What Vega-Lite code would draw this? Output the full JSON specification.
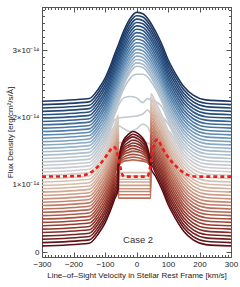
{
"$schema":"https://vega.github.io/schema/vega-lite/v6.json",
"width":189,"height":250,
"autosize":{"type":"none"},
"padding":{"left":42,"top":7,"right":9,"bottom":30},
"config":{"view":{"stroke":"#555","strokeWidth":1},"font":"Liberation Sans"},
"datasets":{
"label":[{"x":5,"y":0.18,"t":"Case 2"}],
"dashed":[{"x":-300,"y":1.12},{"x":-180,"y":1.13},{"x":-150,"y":1.17},{"x":-120,"y":1.28},{"x":-100,"y":1.40},{"x":-85,"y":1.50},{"x":-75,"y":1.56},{"x":-68,"y":1.55},{"x":-60,"y":1.45},{"x":-52,"y":1.28},{"x":-45,"y":1.15},{"x":-38,"y":1.12},{"x":33,"y":1.12},{"x":40,"y":1.18},{"x":47,"y":1.38},{"x":55,"y":1.58},{"x":62,"y":1.66},{"x":68,"y":1.67},{"x":80,"y":1.56},{"x":100,"y":1.41},{"x":120,"y":1.30},{"x":140,"y":1.21},{"x":160,"y":1.15},{"x":190,"y":1.12},{"x":300,"y":1.12}],
"curves":[
{"s":0,"x":-300,"y":2.24},{"s":0,"x":-150,"y":2.28},{"s":0,"x":-120,"y":2.43},{"s":0,"x":-100,"y":2.58},{"s":0,"x":-85,"y":2.74},{"s":0,"x":-70,"y":2.93},{"s":0,"x":-55,"y":3.11},{"s":0,"x":-40,"y":3.29},{"s":0,"x":-20,"y":3.47},{"s":0,"x":0,"y":3.56},{"s":0,"x":20,"y":3.54},{"s":0,"x":40,"y":3.44},{"s":0,"x":60,"y":3.28},{"s":0,"x":80,"y":3.09},{"s":0,"x":100,"y":2.86},{"s":0,"x":125,"y":2.64},{"s":0,"x":150,"y":2.46},{"s":0,"x":180,"y":2.33},{"s":0,"x":220,"y":2.26},{"s":0,"x":300,"y":2.24},
{"s":1,"x":-300,"y":2.19},{"s":1,"x":-150,"y":2.23},{"s":1,"x":-120,"y":2.38},{"s":1,"x":-100,"y":2.53},{"s":1,"x":-85,"y":2.69},{"s":1,"x":-70,"y":2.88},{"s":1,"x":-55,"y":3.06},{"s":1,"x":-40,"y":3.24},{"s":1,"x":-20,"y":3.42},{"s":1,"x":0,"y":3.51},{"s":1,"x":20,"y":3.49},{"s":1,"x":40,"y":3.39},{"s":1,"x":60,"y":3.23},{"s":1,"x":80,"y":3.04},{"s":1,"x":100,"y":2.81},{"s":1,"x":125,"y":2.59},{"s":1,"x":150,"y":2.41},{"s":1,"x":180,"y":2.28},{"s":1,"x":220,"y":2.21},{"s":1,"x":300,"y":2.19},
{"s":2,"x":-300,"y":2.14},{"s":2,"x":-150,"y":2.18},{"s":2,"x":-120,"y":2.33},{"s":2,"x":-100,"y":2.48},{"s":2,"x":-85,"y":2.64},{"s":2,"x":-70,"y":2.83},{"s":2,"x":-55,"y":3.01},{"s":2,"x":-40,"y":3.19},{"s":2,"x":-20,"y":3.37},{"s":2,"x":0,"y":3.46},{"s":2,"x":20,"y":3.44},{"s":2,"x":40,"y":3.34},{"s":2,"x":60,"y":3.18},{"s":2,"x":80,"y":2.99},{"s":2,"x":100,"y":2.76},{"s":2,"x":125,"y":2.54},{"s":2,"x":150,"y":2.36},{"s":2,"x":180,"y":2.23},{"s":2,"x":220,"y":2.16},{"s":2,"x":300,"y":2.14},
{"s":3,"x":-300,"y":2.09},{"s":3,"x":-150,"y":2.13},{"s":3,"x":-120,"y":2.28},{"s":3,"x":-100,"y":2.43},{"s":3,"x":-85,"y":2.59},{"s":3,"x":-70,"y":2.78},{"s":3,"x":-55,"y":2.96},{"s":3,"x":-40,"y":3.14},{"s":3,"x":-20,"y":3.32},{"s":3,"x":0,"y":3.41},{"s":3,"x":20,"y":3.39},{"s":3,"x":40,"y":3.29},{"s":3,"x":60,"y":3.13},{"s":3,"x":80,"y":2.94},{"s":3,"x":100,"y":2.71},{"s":3,"x":125,"y":2.49},{"s":3,"x":150,"y":2.31},{"s":3,"x":180,"y":2.18},{"s":3,"x":220,"y":2.11},{"s":3,"x":300,"y":2.09},
{"s":4,"x":-300,"y":2.04},{"s":4,"x":-150,"y":2.08},{"s":4,"x":-120,"y":2.23},{"s":4,"x":-100,"y":2.38},{"s":4,"x":-85,"y":2.54},{"s":4,"x":-70,"y":2.73},{"s":4,"x":-55,"y":2.91},{"s":4,"x":-40,"y":3.09},{"s":4,"x":-20,"y":3.27},{"s":4,"x":0,"y":3.36},{"s":4,"x":20,"y":3.34},{"s":4,"x":40,"y":3.24},{"s":4,"x":60,"y":3.08},{"s":4,"x":80,"y":2.89},{"s":4,"x":100,"y":2.66},{"s":4,"x":125,"y":2.44},{"s":4,"x":150,"y":2.26},{"s":4,"x":180,"y":2.13},{"s":4,"x":220,"y":2.06},{"s":4,"x":300,"y":2.04},
{"s":5,"x":-300,"y":1.99},{"s":5,"x":-150,"y":2.03},{"s":5,"x":-120,"y":2.18},{"s":5,"x":-100,"y":2.33},{"s":5,"x":-85,"y":2.49},{"s":5,"x":-70,"y":2.68},{"s":5,"x":-55,"y":2.86},{"s":5,"x":-40,"y":3.04},{"s":5,"x":-20,"y":3.22},{"s":5,"x":0,"y":3.31},{"s":5,"x":20,"y":3.29},{"s":5,"x":40,"y":3.19},{"s":5,"x":60,"y":3.03},{"s":5,"x":80,"y":2.84},{"s":5,"x":100,"y":2.61},{"s":5,"x":125,"y":2.39},{"s":5,"x":150,"y":2.21},{"s":5,"x":180,"y":2.08},{"s":5,"x":220,"y":2.01},{"s":5,"x":300,"y":1.99},
{"s":6,"x":-300,"y":1.94},{"s":6,"x":-150,"y":1.98},{"s":6,"x":-120,"y":2.13},{"s":6,"x":-100,"y":2.28},{"s":6,"x":-85,"y":2.44},{"s":6,"x":-70,"y":2.63},{"s":6,"x":-55,"y":2.81},{"s":6,"x":-40,"y":2.99},{"s":6,"x":-20,"y":3.17},{"s":6,"x":0,"y":3.26},{"s":6,"x":20,"y":3.24},{"s":6,"x":40,"y":3.14},{"s":6,"x":60,"y":2.98},{"s":6,"x":80,"y":2.79},{"s":6,"x":100,"y":2.56},{"s":6,"x":125,"y":2.34},{"s":6,"x":150,"y":2.16},{"s":6,"x":180,"y":2.03},{"s":6,"x":220,"y":1.96},{"s":6,"x":300,"y":1.94},
{"s":7,"x":-300,"y":1.89},{"s":7,"x":-150,"y":1.93},{"s":7,"x":-120,"y":2.08},{"s":7,"x":-100,"y":2.23},{"s":7,"x":-85,"y":2.39},{"s":7,"x":-70,"y":2.58},{"s":7,"x":-55,"y":2.76},{"s":7,"x":-40,"y":2.94},{"s":7,"x":-20,"y":3.12},{"s":7,"x":0,"y":3.21},{"s":7,"x":20,"y":3.19},{"s":7,"x":40,"y":3.09},{"s":7,"x":60,"y":2.93},{"s":7,"x":80,"y":2.74},{"s":7,"x":100,"y":2.51},{"s":7,"x":125,"y":2.29},{"s":7,"x":150,"y":2.11},{"s":7,"x":180,"y":1.98},{"s":7,"x":220,"y":1.91},{"s":7,"x":300,"y":1.89},
{"s":8,"x":-300,"y":1.84},{"s":8,"x":-150,"y":1.88},{"s":8,"x":-120,"y":2.03},{"s":8,"x":-100,"y":2.18},{"s":8,"x":-85,"y":2.34},{"s":8,"x":-70,"y":2.53},{"s":8,"x":-55,"y":2.71},{"s":8,"x":-40,"y":2.89},{"s":8,"x":-20,"y":3.07},{"s":8,"x":0,"y":3.16},{"s":8,"x":20,"y":3.14},{"s":8,"x":40,"y":3.04},{"s":8,"x":60,"y":2.88},{"s":8,"x":80,"y":2.69},{"s":8,"x":100,"y":2.46},{"s":8,"x":125,"y":2.24},{"s":8,"x":150,"y":2.06},{"s":8,"x":180,"y":1.93},{"s":8,"x":220,"y":1.86},{"s":8,"x":300,"y":1.84},
{"s":9,"x":-300,"y":1.79},{"s":9,"x":-150,"y":1.83},{"s":9,"x":-120,"y":1.98},{"s":9,"x":-100,"y":2.13},{"s":9,"x":-85,"y":2.29},{"s":9,"x":-70,"y":2.48},{"s":9,"x":-55,"y":2.66},{"s":9,"x":-40,"y":2.84},{"s":9,"x":-20,"y":3.02},{"s":9,"x":0,"y":3.11},{"s":9,"x":20,"y":3.09},{"s":9,"x":40,"y":2.99},{"s":9,"x":60,"y":2.83},{"s":9,"x":80,"y":2.64},{"s":9,"x":100,"y":2.41},{"s":9,"x":125,"y":2.19},{"s":9,"x":150,"y":2.01},{"s":9,"x":180,"y":1.88},{"s":9,"x":220,"y":1.81},{"s":9,"x":300,"y":1.79},
{"s":10,"x":-300,"y":1.74},{"s":10,"x":-150,"y":1.78},{"s":10,"x":-120,"y":1.93},{"s":10,"x":-100,"y":2.08},{"s":10,"x":-85,"y":2.24},{"s":10,"x":-70,"y":2.43},{"s":10,"x":-55,"y":2.61},{"s":10,"x":-40,"y":2.79},{"s":10,"x":-20,"y":2.97},{"s":10,"x":0,"y":3.06},{"s":10,"x":20,"y":3.04},{"s":10,"x":40,"y":2.94},{"s":10,"x":60,"y":2.78},{"s":10,"x":80,"y":2.59},{"s":10,"x":100,"y":2.36},{"s":10,"x":125,"y":2.14},{"s":10,"x":150,"y":1.96},{"s":10,"x":180,"y":1.83},{"s":10,"x":220,"y":1.76},{"s":10,"x":300,"y":1.74},
{"s":11,"x":-300,"y":1.69},{"s":11,"x":-150,"y":1.73},{"s":11,"x":-120,"y":1.88},{"s":11,"x":-100,"y":2.03},{"s":11,"x":-85,"y":2.19},{"s":11,"x":-70,"y":2.38},{"s":11,"x":-55,"y":2.56},{"s":11,"x":-40,"y":2.74},{"s":11,"x":-20,"y":2.92},{"s":11,"x":0,"y":3.01},{"s":11,"x":20,"y":2.99},{"s":11,"x":40,"y":2.89},{"s":11,"x":60,"y":2.73},{"s":11,"x":80,"y":2.54},{"s":11,"x":100,"y":2.31},{"s":11,"x":125,"y":2.09},{"s":11,"x":150,"y":1.91},{"s":11,"x":180,"y":1.78},{"s":11,"x":220,"y":1.71},{"s":11,"x":300,"y":1.69},
{"s":12,"x":-300,"y":1.64},{"s":12,"x":-150,"y":1.68},{"s":12,"x":-120,"y":1.83},{"s":12,"x":-100,"y":1.98},{"s":12,"x":-85,"y":2.14},{"s":12,"x":-70,"y":2.33},{"s":12,"x":-55,"y":2.51},{"s":12,"x":-40,"y":2.69},{"s":12,"x":-20,"y":2.87},{"s":12,"x":0,"y":2.96},{"s":12,"x":20,"y":2.94},{"s":12,"x":40,"y":2.84},{"s":12,"x":60,"y":2.68},{"s":12,"x":80,"y":2.49},{"s":12,"x":100,"y":2.26},{"s":12,"x":125,"y":2.04},{"s":12,"x":150,"y":1.86},{"s":12,"x":180,"y":1.73},{"s":12,"x":220,"y":1.66},{"s":12,"x":300,"y":1.64},
{"s":13,"x":-300,"y":1.59},{"s":13,"x":-150,"y":1.63},{"s":13,"x":-120,"y":1.78},{"s":13,"x":-100,"y":1.93},{"s":13,"x":-85,"y":2.09},{"s":13,"x":-70,"y":2.28},{"s":13,"x":-55,"y":2.46},{"s":13,"x":-40,"y":2.64},{"s":13,"x":-20,"y":2.82},{"s":13,"x":0,"y":2.91},{"s":13,"x":20,"y":2.89},{"s":13,"x":40,"y":2.79},{"s":13,"x":60,"y":2.63},{"s":13,"x":80,"y":2.44},{"s":13,"x":100,"y":2.21},{"s":13,"x":125,"y":1.99},{"s":13,"x":150,"y":1.81},{"s":13,"x":180,"y":1.68},{"s":13,"x":220,"y":1.61},{"s":13,"x":300,"y":1.59},
{"s":14,"x":-300,"y":1.54},{"s":14,"x":-150,"y":1.58},{"s":14,"x":-120,"y":1.73},{"s":14,"x":-100,"y":1.88},{"s":14,"x":-85,"y":2.04},{"s":14,"x":-70,"y":2.23},{"s":14,"x":-55,"y":2.41},{"s":14,"x":-40,"y":2.59},{"s":14,"x":-20,"y":2.77},{"s":14,"x":0,"y":2.86},{"s":14,"x":20,"y":2.84},{"s":14,"x":40,"y":2.74},{"s":14,"x":60,"y":2.58},{"s":14,"x":80,"y":2.39},{"s":14,"x":100,"y":2.16},{"s":14,"x":125,"y":1.94},{"s":14,"x":150,"y":1.76},{"s":14,"x":180,"y":1.63},{"s":14,"x":220,"y":1.56},{"s":14,"x":300,"y":1.54},
{"s":15,"x":-300,"y":1.49},{"s":15,"x":-150,"y":1.53},{"s":15,"x":-120,"y":1.68},{"s":15,"x":-100,"y":1.83},{"s":15,"x":-85,"y":1.99},{"s":15,"x":-70,"y":2.18},{"s":15,"x":-55,"y":2.36},{"s":15,"x":-40,"y":2.54},{"s":15,"x":-20,"y":2.72},{"s":15,"x":0,"y":2.81},{"s":15,"x":20,"y":2.79},{"s":15,"x":40,"y":2.69},{"s":15,"x":60,"y":2.53},{"s":15,"x":80,"y":2.34},{"s":15,"x":100,"y":2.11},{"s":15,"x":125,"y":1.89},{"s":15,"x":150,"y":1.71},{"s":15,"x":180,"y":1.58},{"s":15,"x":220,"y":1.51},{"s":15,"x":300,"y":1.49},
{"s":16,"x":-300,"y":1.44},{"s":16,"x":-150,"y":1.48},{"s":16,"x":-120,"y":1.63},{"s":16,"x":-100,"y":1.78},{"s":16,"x":-85,"y":1.94},{"s":16,"x":-70,"y":2.13},{"s":16,"x":-55,"y":2.31},{"s":16,"x":-40,"y":2.49},{"s":16,"x":-20,"y":2.67},{"s":16,"x":0,"y":2.76},{"s":16,"x":20,"y":2.74},{"s":16,"x":40,"y":2.64},{"s":16,"x":60,"y":2.48},{"s":16,"x":80,"y":2.29},{"s":16,"x":100,"y":2.06},{"s":16,"x":125,"y":1.84},{"s":16,"x":150,"y":1.66},{"s":16,"x":180,"y":1.53},{"s":16,"x":220,"y":1.46},{"s":16,"x":300,"y":1.44},
{"s":17,"x":-300,"y":1.39},{"s":17,"x":-150,"y":1.43},{"s":17,"x":-120,"y":1.58},{"s":17,"x":-100,"y":1.73},{"s":17,"x":-85,"y":1.89},{"s":17,"x":-70,"y":2.08},{"s":17,"x":-55,"y":2.26},{"s":17,"x":-40,"y":2.43},{"s":17,"x":-20,"y":2.58},{"s":17,"x":0,"y":2.64},{"s":17,"x":20,"y":2.64},{"s":17,"x":35,"y":2.60},{"s":17,"x":45,"y":2.54},{"s":17,"x":60,"y":2.43},{"s":17,"x":80,"y":2.24},{"s":17,"x":100,"y":2.01},{"s":17,"x":125,"y":1.79},{"s":17,"x":150,"y":1.61},{"s":17,"x":180,"y":1.48},{"s":17,"x":220,"y":1.41},{"s":17,"x":300,"y":1.39},
{"s":18,"x":-300,"y":1.34},{"s":18,"x":-150,"y":1.38},{"s":18,"x":-120,"y":1.53},{"s":18,"x":-100,"y":1.68},{"s":18,"x":-85,"y":1.84},{"s":18,"x":-70,"y":2.03},{"s":18,"x":-55,"y":2.20},{"s":18,"x":-40,"y":2.29},{"s":18,"x":-20,"y":2.31},{"s":18,"x":0,"y":2.29},{"s":18,"x":20,"y":2.22},{"s":18,"x":35,"y":2.28},{"s":18,"x":45,"y":2.26},{"s":18,"x":60,"y":2.24},{"s":18,"x":80,"y":2.16},{"s":18,"x":100,"y":1.96},{"s":18,"x":125,"y":1.74},{"s":18,"x":150,"y":1.56},{"s":18,"x":180,"y":1.43},{"s":18,"x":220,"y":1.36},{"s":18,"x":300,"y":1.34},
{"s":19,"x":-300,"y":1.29},{"s":19,"x":-150,"y":1.33},{"s":19,"x":-120,"y":1.48},{"s":19,"x":-100,"y":1.63},{"s":19,"x":-85,"y":1.79},{"s":19,"x":-70,"y":1.96},{"s":19,"x":-55,"y":1.99},{"s":19,"x":-40,"y":2.00},{"s":19,"x":-20,"y":2.01},{"s":19,"x":0,"y":2.02},{"s":19,"x":20,"y":2.05},{"s":19,"x":35,"y":2.11},{"s":19,"x":45,"y":2.06},{"s":19,"x":60,"y":2.01},{"s":19,"x":80,"y":2.00},{"s":19,"x":100,"y":1.91},{"s":19,"x":125,"y":1.69},{"s":19,"x":150,"y":1.51},{"s":19,"x":180,"y":1.38},{"s":19,"x":220,"y":1.31},{"s":19,"x":300,"y":1.29},
{"s":20,"x":-300,"y":1.24},{"s":20,"x":-150,"y":1.28},{"s":20,"x":-120,"y":1.43},{"s":20,"x":-100,"y":1.58},{"s":20,"x":-85,"y":1.74},{"s":20,"x":-70,"y":1.86},{"s":20,"x":-55,"y":1.87},{"s":20,"x":-40,"y":1.83},{"s":20,"x":-20,"y":1.79},{"s":20,"x":0,"y":1.83},{"s":20,"x":20,"y":1.90},{"s":20,"x":35,"y":1.86},{"s":20,"x":45,"y":1.78},{"s":20,"x":60,"y":1.77},{"s":20,"x":80,"y":1.79},{"s":20,"x":100,"y":1.80},{"s":20,"x":125,"y":1.64},{"s":20,"x":150,"y":1.46},{"s":20,"x":180,"y":1.33},{"s":20,"x":220,"y":1.26},{"s":20,"x":300,"y":1.24},
{"s":21,"x":-300,"y":1.19},{"s":21,"x":-150,"y":1.23},{"s":21,"x":-120,"y":1.38},{"s":21,"x":-100,"y":1.53},{"s":21,"x":-85,"y":1.69},{"s":21,"x":-70,"y":1.88},{"s":21,"x":-58,"y":2.03},{"s":21,"x":-57.5,"y":1.62},{"s":21,"x":-40,"y":1.64},{"s":21,"x":-20,"y":1.66},{"s":21,"x":0,"y":1.67},{"s":21,"x":20,"y":1.65},{"s":21,"x":35,"y":1.62},{"s":21,"x":45,"y":1.60},{"s":21,"x":45.5,"y":2.35},{"s":21,"x":60,"y":2.23},{"s":21,"x":80,"y":2.04},{"s":21,"x":100,"y":1.81},{"s":21,"x":125,"y":1.59},{"s":21,"x":150,"y":1.41},{"s":21,"x":180,"y":1.28},{"s":21,"x":220,"y":1.21},{"s":21,"x":300,"y":1.19},
{"s":22,"x":-300,"y":1.14},{"s":22,"x":-150,"y":1.18},{"s":22,"x":-120,"y":1.33},{"s":22,"x":-100,"y":1.48},{"s":22,"x":-85,"y":1.64},{"s":22,"x":-70,"y":1.83},{"s":22,"x":-58,"y":1.98},{"s":22,"x":-57.5,"y":1.46},{"s":22,"x":-20,"y":1.48},{"s":22,"x":10,"y":1.48},{"s":22,"x":45,"y":1.45},{"s":22,"x":45.5,"y":2.30},{"s":22,"x":60,"y":2.18},{"s":22,"x":80,"y":1.99},{"s":22,"x":100,"y":1.76},{"s":22,"x":125,"y":1.54},{"s":22,"x":150,"y":1.36},{"s":22,"x":180,"y":1.23},{"s":22,"x":220,"y":1.16},{"s":22,"x":300,"y":1.14},
{"s":23,"x":-300,"y":1.09},{"s":23,"x":-150,"y":1.13},{"s":23,"x":-120,"y":1.28},{"s":23,"x":-100,"y":1.43},{"s":23,"x":-85,"y":1.59},{"s":23,"x":-70,"y":1.78},{"s":23,"x":-58,"y":1.93},{"s":23,"x":-57.5,"y":1.36},{"s":23,"x":45,"y":1.36},{"s":23,"x":45.5,"y":2.25},{"s":23,"x":60,"y":2.13},{"s":23,"x":80,"y":1.94},{"s":23,"x":100,"y":1.71},{"s":23,"x":125,"y":1.49},{"s":23,"x":150,"y":1.31},{"s":23,"x":180,"y":1.18},{"s":23,"x":220,"y":1.11},{"s":23,"x":300,"y":1.09},
{"s":24,"x":-300,"y":1.04},{"s":24,"x":-150,"y":1.08},{"s":24,"x":-120,"y":1.23},{"s":24,"x":-100,"y":1.38},{"s":24,"x":-85,"y":1.54},{"s":24,"x":-70,"y":1.73},{"s":24,"x":-58,"y":1.88},{"s":24,"x":-57.5,"y":1.18},{"s":24,"x":45,"y":1.18},{"s":24,"x":45.5,"y":2.20},{"s":24,"x":60,"y":2.08},{"s":24,"x":80,"y":1.89},{"s":24,"x":100,"y":1.66},{"s":24,"x":125,"y":1.44},{"s":24,"x":150,"y":1.26},{"s":24,"x":180,"y":1.13},{"s":24,"x":220,"y":1.06},{"s":24,"x":300,"y":1.04},
{"s":25,"x":-300,"y":0.99},{"s":25,"x":-150,"y":1.03},{"s":25,"x":-120,"y":1.18},{"s":25,"x":-100,"y":1.33},{"s":25,"x":-85,"y":1.49},{"s":25,"x":-70,"y":1.68},{"s":25,"x":-58,"y":1.83},{"s":25,"x":-57.5,"y":1.13},{"s":25,"x":45,"y":1.13},{"s":25,"x":45.5,"y":2.15},{"s":25,"x":60,"y":2.03},{"s":25,"x":80,"y":1.84},{"s":25,"x":100,"y":1.61},{"s":25,"x":125,"y":1.39},{"s":25,"x":150,"y":1.21},{"s":25,"x":180,"y":1.08},{"s":25,"x":220,"y":1.01},{"s":25,"x":300,"y":0.99},
{"s":26,"x":-300,"y":0.94},{"s":26,"x":-150,"y":0.98},{"s":26,"x":-120,"y":1.13},{"s":26,"x":-100,"y":1.28},{"s":26,"x":-85,"y":1.44},{"s":26,"x":-70,"y":1.63},{"s":26,"x":-58,"y":1.78},{"s":26,"x":-57.5,"y":1.08},{"s":26,"x":45,"y":1.08},{"s":26,"x":45.5,"y":2.10},{"s":26,"x":60,"y":1.98},{"s":26,"x":80,"y":1.79},{"s":26,"x":100,"y":1.56},{"s":26,"x":125,"y":1.34},{"s":26,"x":150,"y":1.16},{"s":26,"x":180,"y":1.03},{"s":26,"x":220,"y":0.96},{"s":26,"x":300,"y":0.94},
{"s":27,"x":-300,"y":0.89},{"s":27,"x":-150,"y":0.93},{"s":27,"x":-120,"y":1.08},{"s":27,"x":-100,"y":1.23},{"s":27,"x":-85,"y":1.39},{"s":27,"x":-70,"y":1.58},{"s":27,"x":-58,"y":1.73},{"s":27,"x":-57.5,"y":1.04},{"s":27,"x":45,"y":1.04},{"s":27,"x":45.5,"y":2.05},{"s":27,"x":60,"y":1.93},{"s":27,"x":80,"y":1.74},{"s":27,"x":100,"y":1.51},{"s":27,"x":125,"y":1.29},{"s":27,"x":150,"y":1.11},{"s":27,"x":180,"y":0.98},{"s":27,"x":220,"y":0.91},{"s":27,"x":300,"y":0.89},
{"s":28,"x":-300,"y":0.84},{"s":28,"x":-150,"y":0.88},{"s":28,"x":-120,"y":1.03},{"s":28,"x":-100,"y":1.18},{"s":28,"x":-85,"y":1.34},{"s":28,"x":-70,"y":1.53},{"s":28,"x":-58,"y":1.68},{"s":28,"x":-57.5,"y":0.99},{"s":28,"x":45,"y":0.99},{"s":28,"x":45.5,"y":2.00},{"s":28,"x":60,"y":1.88},{"s":28,"x":80,"y":1.69},{"s":28,"x":100,"y":1.46},{"s":28,"x":125,"y":1.24},{"s":28,"x":150,"y":1.06},{"s":28,"x":180,"y":0.93},{"s":28,"x":220,"y":0.86},{"s":28,"x":300,"y":0.84},
{"s":29,"x":-300,"y":0.79},{"s":29,"x":-150,"y":0.83},{"s":29,"x":-120,"y":0.98},{"s":29,"x":-100,"y":1.13},{"s":29,"x":-85,"y":1.29},{"s":29,"x":-70,"y":1.48},{"s":29,"x":-58,"y":1.63},{"s":29,"x":-57.5,"y":0.94},{"s":29,"x":45,"y":0.94},{"s":29,"x":45.5,"y":1.95},{"s":29,"x":60,"y":1.83},{"s":29,"x":80,"y":1.64},{"s":29,"x":100,"y":1.41},{"s":29,"x":125,"y":1.19},{"s":29,"x":150,"y":1.01},{"s":29,"x":180,"y":0.88},{"s":29,"x":220,"y":0.81},{"s":29,"x":300,"y":0.79},
{"s":30,"x":-300,"y":0.74},{"s":30,"x":-150,"y":0.78},{"s":30,"x":-120,"y":0.93},{"s":30,"x":-100,"y":1.08},{"s":30,"x":-85,"y":1.24},{"s":30,"x":-70,"y":1.43},{"s":30,"x":-58,"y":1.58},{"s":30,"x":-57.5,"y":0.90},{"s":30,"x":45,"y":0.90},{"s":30,"x":45.5,"y":1.90},{"s":30,"x":60,"y":1.78},{"s":30,"x":80,"y":1.59},{"s":30,"x":100,"y":1.36},{"s":30,"x":125,"y":1.14},{"s":30,"x":150,"y":0.96},{"s":30,"x":180,"y":0.83},{"s":30,"x":220,"y":0.76},{"s":30,"x":300,"y":0.74},
{"s":31,"x":-300,"y":0.69},{"s":31,"x":-150,"y":0.73},{"s":31,"x":-120,"y":0.88},{"s":31,"x":-100,"y":1.03},{"s":31,"x":-85,"y":1.19},{"s":31,"x":-70,"y":1.38},{"s":31,"x":-58,"y":1.53},{"s":31,"x":-57.5,"y":0.85},{"s":31,"x":45,"y":0.85},{"s":31,"x":45.5,"y":1.85},{"s":31,"x":60,"y":1.73},{"s":31,"x":80,"y":1.54},{"s":31,"x":100,"y":1.31},{"s":31,"x":125,"y":1.09},{"s":31,"x":150,"y":0.91},{"s":31,"x":180,"y":0.78},{"s":31,"x":220,"y":0.71},{"s":31,"x":300,"y":0.69},
{"s":32,"x":-300,"y":0.64},{"s":32,"x":-150,"y":0.68},{"s":32,"x":-120,"y":0.83},{"s":32,"x":-100,"y":0.98},{"s":32,"x":-85,"y":1.14},{"s":32,"x":-70,"y":1.33},{"s":32,"x":-58,"y":1.48},{"s":32,"x":-57.5,"y":0.80},{"s":32,"x":45,"y":0.80},{"s":32,"x":45.5,"y":1.80},{"s":32,"x":60,"y":1.68},{"s":32,"x":80,"y":1.49},{"s":32,"x":100,"y":1.26},{"s":32,"x":125,"y":1.04},{"s":32,"x":150,"y":0.86},{"s":32,"x":180,"y":0.73},{"s":32,"x":220,"y":0.66},{"s":32,"x":300,"y":0.64},
{"s":33,"x":-300,"y":0.59},{"s":33,"x":-150,"y":0.63},{"s":33,"x":-120,"y":0.78},{"s":33,"x":-100,"y":0.93},{"s":33,"x":-85,"y":1.09},{"s":33,"x":-70,"y":1.28},{"s":33,"x":-58,"y":1.43},{"s":33,"x":-57.5,"y":1.28},{"s":33,"x":-50,"y":1.32},{"s":33,"x":-40,"y":1.35},{"s":33,"x":-25,"y":1.36},{"s":33,"x":-12,"y":1.37},{"s":33,"x":5,"y":1.36},{"s":33,"x":20,"y":1.35},{"s":33,"x":35,"y":1.33},{"s":33,"x":45,"y":1.28},{"s":33,"x":45.5,"y":1.75},{"s":33,"x":60,"y":1.63},{"s":33,"x":80,"y":1.44},{"s":33,"x":100,"y":1.21},{"s":33,"x":125,"y":0.99},{"s":33,"x":150,"y":0.81},{"s":33,"x":180,"y":0.68},{"s":33,"x":220,"y":0.61},{"s":33,"x":300,"y":0.59},
{"s":34,"x":-300,"y":0.54},{"s":34,"x":-150,"y":0.58},{"s":34,"x":-120,"y":0.73},{"s":34,"x":-100,"y":0.88},{"s":34,"x":-85,"y":1.04},{"s":34,"x":-70,"y":1.23},{"s":34,"x":-58,"y":1.38},{"s":34,"x":-57.5,"y":1.28},{"s":34,"x":-50,"y":1.35},{"s":34,"x":-40,"y":1.38},{"s":34,"x":-25,"y":1.40},{"s":34,"x":-12,"y":1.41},{"s":34,"x":5,"y":1.40},{"s":34,"x":20,"y":1.38},{"s":34,"x":35,"y":1.35},{"s":34,"x":45,"y":1.28},{"s":34,"x":45.5,"y":1.70},{"s":34,"x":60,"y":1.58},{"s":34,"x":80,"y":1.39},{"s":34,"x":100,"y":1.16},{"s":34,"x":125,"y":0.94},{"s":34,"x":150,"y":0.76},{"s":34,"x":180,"y":0.63},{"s":34,"x":220,"y":0.56},{"s":34,"x":300,"y":0.54},
{"s":35,"x":-300,"y":0.49},{"s":35,"x":-150,"y":0.53},{"s":35,"x":-120,"y":0.68},{"s":35,"x":-100,"y":0.83},{"s":35,"x":-85,"y":0.99},{"s":35,"x":-70,"y":1.18},{"s":35,"x":-58,"y":1.33},{"s":35,"x":-57.5,"y":1.28},{"s":35,"x":-50,"y":1.37},{"s":35,"x":-40,"y":1.41},{"s":35,"x":-25,"y":1.44},{"s":35,"x":-12,"y":1.45},{"s":35,"x":5,"y":1.44},{"s":35,"x":20,"y":1.42},{"s":35,"x":35,"y":1.37},{"s":35,"x":45,"y":1.28},{"s":35,"x":45.5,"y":1.65},{"s":35,"x":60,"y":1.53},{"s":35,"x":80,"y":1.34},{"s":35,"x":100,"y":1.11},{"s":35,"x":125,"y":0.89},{"s":35,"x":150,"y":0.71},{"s":35,"x":180,"y":0.58},{"s":35,"x":220,"y":0.51},{"s":35,"x":300,"y":0.49},
{"s":36,"x":-300,"y":0.44},{"s":36,"x":-150,"y":0.48},{"s":36,"x":-120,"y":0.63},{"s":36,"x":-100,"y":0.78},{"s":36,"x":-85,"y":0.94},{"s":36,"x":-70,"y":1.13},{"s":36,"x":-58,"y":1.28},{"s":36,"x":-57.5,"y":1.28},{"s":36,"x":-50,"y":1.39},{"s":36,"x":-40,"y":1.45},{"s":36,"x":-25,"y":1.48},{"s":36,"x":-12,"y":1.50},{"s":36,"x":5,"y":1.49},{"s":36,"x":20,"y":1.46},{"s":36,"x":35,"y":1.39},{"s":36,"x":45,"y":1.28},{"s":36,"x":45.5,"y":1.60},{"s":36,"x":60,"y":1.48},{"s":36,"x":80,"y":1.29},{"s":36,"x":100,"y":1.06},{"s":36,"x":125,"y":0.84},{"s":36,"x":150,"y":0.66},{"s":36,"x":180,"y":0.53},{"s":36,"x":220,"y":0.46},{"s":36,"x":300,"y":0.44},
{"s":37,"x":-300,"y":0.39},{"s":37,"x":-150,"y":0.43},{"s":37,"x":-120,"y":0.58},{"s":37,"x":-100,"y":0.73},{"s":37,"x":-85,"y":0.89},{"s":37,"x":-70,"y":1.08},{"s":37,"x":-58,"y":1.23},{"s":37,"x":-57.5,"y":1.28},{"s":37,"x":-50,"y":1.41},{"s":37,"x":-40,"y":1.48},{"s":37,"x":-25,"y":1.52},{"s":37,"x":-12,"y":1.54},{"s":37,"x":5,"y":1.52},{"s":37,"x":20,"y":1.49},{"s":37,"x":35,"y":1.42},{"s":37,"x":45,"y":1.28},{"s":37,"x":45.5,"y":1.55},{"s":37,"x":60,"y":1.43},{"s":37,"x":80,"y":1.24},{"s":37,"x":100,"y":1.01},{"s":37,"x":125,"y":0.79},{"s":37,"x":150,"y":0.61},{"s":37,"x":180,"y":0.48},{"s":37,"x":220,"y":0.41},{"s":37,"x":300,"y":0.39},
{"s":38,"x":-300,"y":0.34},{"s":38,"x":-150,"y":0.38},{"s":38,"x":-120,"y":0.53},{"s":38,"x":-100,"y":0.68},{"s":38,"x":-85,"y":0.84},{"s":38,"x":-70,"y":1.03},{"s":38,"x":-58,"y":1.18},{"s":38,"x":-57.5,"y":1.28},{"s":38,"x":-50,"y":1.43},{"s":38,"x":-40,"y":1.51},{"s":38,"x":-25,"y":1.56},{"s":38,"x":-12,"y":1.58},{"s":38,"x":5,"y":1.56},{"s":38,"x":20,"y":1.52},{"s":38,"x":35,"y":1.44},{"s":38,"x":45,"y":1.28},{"s":38,"x":45.5,"y":1.50},{"s":38,"x":60,"y":1.38},{"s":38,"x":80,"y":1.19},{"s":38,"x":100,"y":0.96},{"s":38,"x":125,"y":0.74},{"s":38,"x":150,"y":0.56},{"s":38,"x":180,"y":0.43},{"s":38,"x":220,"y":0.36},{"s":38,"x":300,"y":0.34},
{"s":39,"x":-300,"y":0.29},{"s":39,"x":-150,"y":0.33},{"s":39,"x":-120,"y":0.48},{"s":39,"x":-100,"y":0.63},{"s":39,"x":-85,"y":0.79},{"s":39,"x":-70,"y":0.98},{"s":39,"x":-58,"y":1.13},{"s":39,"x":-57.5,"y":1.28},{"s":39,"x":-50,"y":1.45},{"s":39,"x":-40,"y":1.54},{"s":39,"x":-25,"y":1.59},{"s":39,"x":-12,"y":1.62},{"s":39,"x":5,"y":1.60},{"s":39,"x":20,"y":1.55},{"s":39,"x":35,"y":1.46},{"s":39,"x":45,"y":1.28},{"s":39,"x":45.5,"y":1.45},{"s":39,"x":60,"y":1.33},{"s":39,"x":80,"y":1.14},{"s":39,"x":100,"y":0.91},{"s":39,"x":125,"y":0.69},{"s":39,"x":150,"y":0.51},{"s":39,"x":180,"y":0.38},{"s":39,"x":220,"y":0.31},{"s":39,"x":300,"y":0.29},
{"s":40,"x":-300,"y":0.24},{"s":40,"x":-150,"y":0.28},{"s":40,"x":-120,"y":0.43},{"s":40,"x":-100,"y":0.58},{"s":40,"x":-85,"y":0.74},{"s":40,"x":-70,"y":0.93},{"s":40,"x":-58,"y":1.08},{"s":40,"x":-57.5,"y":1.28},{"s":40,"x":-50,"y":1.47},{"s":40,"x":-40,"y":1.57},{"s":40,"x":-25,"y":1.63},{"s":40,"x":-12,"y":1.66},{"s":40,"x":5,"y":1.64},{"s":40,"x":20,"y":1.58},{"s":40,"x":35,"y":1.48},{"s":40,"x":45,"y":1.28},{"s":40,"x":45.5,"y":1.40},{"s":40,"x":60,"y":1.28},{"s":40,"x":80,"y":1.09},{"s":40,"x":100,"y":0.86},{"s":40,"x":125,"y":0.64},{"s":40,"x":150,"y":0.46},{"s":40,"x":180,"y":0.33},{"s":40,"x":220,"y":0.26},{"s":40,"x":300,"y":0.24},
{"s":41,"x":-300,"y":0.19},{"s":41,"x":-150,"y":0.23},{"s":41,"x":-120,"y":0.38},{"s":41,"x":-100,"y":0.53},{"s":41,"x":-85,"y":0.69},{"s":41,"x":-70,"y":0.88},{"s":41,"x":-58,"y":1.03},{"s":41,"x":-57.5,"y":1.28},{"s":41,"x":-50,"y":1.50},{"s":41,"x":-40,"y":1.61},{"s":41,"x":-25,"y":1.68},{"s":41,"x":-12,"y":1.71},{"s":41,"x":5,"y":1.68},{"s":41,"x":20,"y":1.62},{"s":41,"x":35,"y":1.50},{"s":41,"x":45,"y":1.28},{"s":41,"x":45.5,"y":1.35},{"s":41,"x":60,"y":1.23},{"s":41,"x":80,"y":1.04},{"s":41,"x":100,"y":0.81},{"s":41,"x":125,"y":0.59},{"s":41,"x":150,"y":0.41},{"s":41,"x":180,"y":0.28},{"s":41,"x":220,"y":0.21},{"s":41,"x":300,"y":0.19},
{"s":42,"x":-300,"y":0.14},{"s":42,"x":-150,"y":0.18},{"s":42,"x":-120,"y":0.33},{"s":42,"x":-100,"y":0.48},{"s":42,"x":-85,"y":0.64},{"s":42,"x":-70,"y":0.83},{"s":42,"x":-58,"y":0.98},{"s":42,"x":-57.5,"y":1.28},{"s":42,"x":-50,"y":1.52},{"s":42,"x":-40,"y":1.64},{"s":42,"x":-25,"y":1.71},{"s":42,"x":-12,"y":1.75},{"s":42,"x":5,"y":1.72},{"s":42,"x":20,"y":1.66},{"s":42,"x":35,"y":1.52},{"s":42,"x":45,"y":1.28},{"s":42,"x":45.5,"y":1.30},{"s":42,"x":60,"y":1.18},{"s":42,"x":80,"y":0.99},{"s":42,"x":100,"y":0.76},{"s":42,"x":125,"y":0.54},{"s":42,"x":150,"y":0.36},{"s":42,"x":180,"y":0.23},{"s":42,"x":220,"y":0.16},{"s":42,"x":300,"y":0.14},
{"s":43,"x":-300,"y":0.09},{"s":43,"x":-150,"y":0.13},{"s":43,"x":-120,"y":0.28},{"s":43,"x":-100,"y":0.43},{"s":43,"x":-85,"y":0.59},{"s":43,"x":-70,"y":0.78},{"s":43,"x":-58,"y":0.93},{"s":43,"x":-57.5,"y":1.28},{"s":43,"x":-50,"y":1.54},{"s":43,"x":-40,"y":1.67},{"s":43,"x":-25,"y":1.75},{"s":43,"x":-12,"y":1.79},{"s":43,"x":5,"y":1.76},{"s":43,"x":20,"y":1.69},{"s":43,"x":35,"y":1.55},{"s":43,"x":45,"y":1.28},{"s":43,"x":45.5,"y":1.25},{"s":43,"x":60,"y":1.13},{"s":43,"x":80,"y":0.94},{"s":43,"x":100,"y":0.71},{"s":43,"x":125,"y":0.49},{"s":43,"x":150,"y":0.31},{"s":43,"x":180,"y":0.18},{"s":43,"x":220,"y":0.11},{"s":43,"x":300,"y":0.09}
]},
"resolve":{"axis":{"x":"independent","y":"independent"}},
"layer":[
{"data":{"name":"curves"},
"mark":{"type":"line","interpolate":"monotone","strokeWidth":1.6,"clip":true},
"encoding":{
"x":{"field":"x","type":"quantitative","scale":{"domain":[-300,300],"nice":false,"zero":false},
"axis":{"orient":"bottom","values":[-300,-200,-100,0,100,200,300],"format":"d","tickSize":-5,"tickColor":"#555","domain":false,"grid":false,"labelFontSize":8,"labelColor":"#222","labelPadding":8,"labelFlush":false,"title":"Line–of–Sight Velocity in Stellar Rest Frame [km/s]","titleFontSize":8,"titleFontWeight":"normal","titleColor":"#222","titlePadding":3}},
"y":{"field":"y","type":"quantitative","scale":{"domain":[-0.074,3.64],"nice":false,"zero":false},
"axis":{"orient":"left","values":[0,1,2,3],"tickSize":-5,"tickColor":"#555","domain":false,"grid":false,"labelExpr":"datum.value == 0 ? '0' : datum.value + '×10⁻¹⁴'","labelFontSize":8,"labelColor":"#222","labelPadding":8,"title":"Flux Density [erg/cm²/s/Å]","titleFontSize":8,"titleFontWeight":"normal","titleColor":"#222","titlePadding":-3}},
"color":{"field":"s","type":"quantitative","legend":null,"scale":{"domain":[0,5,10,14,17,20,22,26,31,37,43],"range":["#1a3560","#2c5585","#5c88b0","#98b3cb","#b8c4ce","#c9ccd0","#d5cdc6","#d6b3a0","#c07b66","#993c30","#5a0c12"]}},
"detail":{"field":"s","type":"nominal"}
}},
{"data":{"name":"dashed"},
"mark":{"type":"line","interpolate":"monotone","color":"#e8201f","strokeWidth":2.6,"strokeDash":[4,3]},
"encoding":{
"x":{"field":"x","type":"quantitative","scale":{"domain":[-300,300],"nice":false,"zero":false},
"axis":{"orient":"bottom","values":[-300,-290,-280,-270,-260,-250,-240,-230,-220,-210,-200,-190,-180,-170,-160,-150,-140,-130,-120,-110,-100,-90,-80,-70,-60,-50,-40,-30,-20,-10,0,10,20,30,40,50,60,70,80,90,100,110,120,130,140,150,160,170,180,190,200,210,220,230,240,250,260,270,280,290,300],"tickSize":-2.5,"tickColor":"#555","labels":false,"domain":false,"grid":false,"title":null}},
"y":{"field":"y","type":"quantitative","scale":{"domain":[-0.074,3.64],"nice":false,"zero":false},
"axis":{"orient":"left","values":[0,0.1,0.2,0.3,0.4,0.5,0.6,0.7,0.8,0.9,1,1.1,1.2,1.3,1.4,1.5,1.6,1.7,1.8,1.9,2,2.1,2.2,2.3,2.4,2.5,2.6,2.7,2.8,2.9,3,3.1,3.2,3.3,3.4,3.5,3.6],"tickSize":-2.5,"tickColor":"#555","labels":false,"domain":false,"grid":false,"title":null}}
}},
{"data":{"name":"label"},
"mark":{"type":"text","fontSize":9.5,"color":"#333","align":"center","baseline":"middle"},
"encoding":{
"x":{"field":"x","type":"quantitative","scale":{"domain":[-300,300],"nice":false,"zero":false},
"axis":{"orient":"top","values":[-300,-200,-100,0,100,200,300],"tickSize":-5,"tickColor":"#555","labels":false,"domain":false,"grid":false,"title":null}},
"y":{"field":"y","type":"quantitative","scale":{"domain":[-0.074,3.64],"nice":false,"zero":false},
"axis":{"orient":"right","values":[0,1,2,3],"tickSize":-5,"tickColor":"#555","labels":false,"domain":false,"grid":false,"title":null}},
"text":{"field":"t"}
}},
{"data":{"name":"label"},
"mark":{"type":"point","opacity":0},
"encoding":{
"x":{"field":"x","type":"quantitative","scale":{"domain":[-300,300],"nice":false,"zero":false},
"axis":{"orient":"top","values":[-300,-290,-280,-270,-260,-250,-240,-230,-220,-210,-200,-190,-180,-170,-160,-150,-140,-130,-120,-110,-100,-90,-80,-70,-60,-50,-40,-30,-20,-10,0,10,20,30,40,50,60,70,80,90,100,110,120,130,140,150,160,170,180,190,200,210,220,230,240,250,260,270,280,290,300],"tickSize":-2.5,"tickColor":"#555","labels":false,"domain":false,"grid":false,"title":null}},
"y":{"field":"y","type":"quantitative","scale":{"domain":[-0.074,3.64],"nice":false,"zero":false},
"axis":{"orient":"right","values":[0,0.1,0.2,0.3,0.4,0.5,0.6,0.7,0.8,0.9,1,1.1,1.2,1.3,1.4,1.5,1.6,1.7,1.8,1.9,2,2.1,2.2,2.3,2.4,2.5,2.6,2.7,2.8,2.9,3,3.1,3.2,3.3,3.4,3.5,3.6],"tickSize":-2.5,"tickColor":"#555","labels":false,"domain":false,"grid":false,"title":null}}
}}
]
}
